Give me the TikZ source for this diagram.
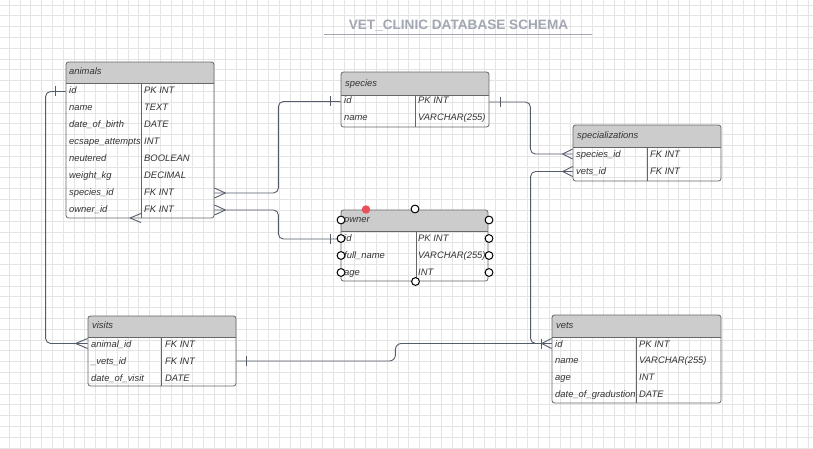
\documentclass[tikz,border=0pt]{standalone}
\usepackage{fontspec}
\setmainfont{Liberation Sans}
\usetikzlibrary{fit}
\definecolor{gridc}{HTML}{E4E4E4}
\definecolor{boxline}{HTML}{666666}
\definecolor{headfill}{HTML}{CCCCCC}
\definecolor{txtc}{HTML}{333333}
\definecolor{connc}{HTML}{545B6B}
\definecolor{titlec}{HTML}{A3A7B3}
\definecolor{reddot}{HTML}{E8505B}
\tikzset{
  tbl/.style={draw=boxline, line width=0.8pt, rounded corners=2.5pt, inner sep=0pt},
  sepline/.style={draw=boxline, line width=0.8pt},
  cell/.style={anchor=base west, inner sep=0pt, text=txtc, font=\fontsize{9.4}{11}\selectfont\itshape},
  conn/.style={draw=connc, line width=0.9pt},
  handle/.style={circle, draw=black, fill=white, line width=1pt, minimum size=7.8pt, inner sep=0pt},
  redhandle/.style={circle, fill=reddot, minimum size=8.5pt, inner sep=0pt},
  titletxt/.style={anchor=base, inner sep=0pt, text=titlec, font=\fontsize{13.6}{16}\selectfont\bfseries},
}
% table: name, x1, y1, x2, y2, yheader, xdivider
\newcommand\ertab[7]{%
  \begin{scope}
    \clip[rounded corners=2.5pt] (#2,#3) rectangle (#4,#5);
    \fill[headfill] (#2,#3) rectangle (#4,#6);
  \end{scope}
  \node[tbl, fit={(#2,#3) (#4,#5)}] (#1) {};
  \draw[sepline] (#2,#6) -- (#4,#6);
  \draw[sepline] (#7,#6) -- (#7,#5);
}
% crow's foot: point, dx (apex offset)
\newcommand\crowft[2]{%
  \draw[conn] (#1) ++(#2,0) -- ++(-#2,-5) (#1) ++(#2,0) -- ++(-#2,5);
}
\newcommand\tickmk[2]{%
  \draw[conn] (#1) ++(#2,-5) -- ++(0,10);
}
\begin{document}
\begin{tikzpicture}[x=1pt,y=-1pt]
\useasboundingbox (0,0) rectangle (813,449);
\fill[white] (0,0) rectangle (813,449);
% grid
\foreach \i in {0,...,75} \draw[gridc, line width=0.6pt] ({9+10.8*\i},0) -- ({9+10.8*\i},449);
\foreach \j in {0,...,41} \draw[gridc, line width=0.6pt] (0,{5+10.8*\j}) -- (813,{5+10.8*\j});

% title
\node[titletxt] (title) at (458.5,30) {VET\_CLINIC DATABASE SCHEMA};
\draw[titlec, line width=1.2pt] (324,34.3) -- (592,34.3);

% ---------- animals ----------
\ertab{animals}{66}{62}{214}{218}{83}{141}
\node[cell] (an-h) at (69,75) {animals};
\foreach \n/\t/\ty [count=\k from 0] in {id/id/PK INT, name/name/TEXT, dob/date\_of\_birth/DATE, esc/ecsape\_attempts/INT, neu/neutered/BOOLEAN, wkg/weight\_kg/DECIMAL, spid/species\_id/FK INT, owid/owner\_id/FK INT}{
  \node[cell] (an-\n) at (69,{94+16.9*\k}) {\t};
  \node[cell] (an-\n-t) at (144,{94+16.9*\k}) {\ty};
}

% ---------- species ----------
\ertab{species}{341}{72}{489}{127}{95}{415}
\node[cell] (sp-h) at (345,86.5) {species};
\node[cell] (sp-id) at (344,103.5) {id};
\node[cell] (sp-id-t) at (418,103.5) {PK INT};
\node[cell] (sp-name) at (344,120.5) {name};
\node[cell] (sp-name-t) at (418,120.5) {VARCHAR(255)};

% ---------- specializations ----------
\ertab{spz}{573}{125}{721}{181}{147}{647}
\node[cell] (spz-h) at (577,138.5) {specializations};
\node[cell] (spz-sp) at (576,157.5) {species\_id};
\node[cell] (spz-sp-t) at (650,157.5) {FK INT};
\node[cell] (spz-vt) at (576,174.5) {vets\_id};
\node[cell] (spz-vt-t) at (650,174.5) {FK INT};

% ---------- owner ----------
\ertab{owner}{341}{210}{488}{281}{231}{416}
\node[cell] (ow-h) at (344,222.5) {owner};
\node[cell] (ow-id) at (344,241.5) {id};
\node[cell] (ow-id-t) at (418,241.5) {PK INT};
\node[cell] (ow-fn) at (344,258.5) {full\_name};
\node[cell] (ow-fn-t) at (418,258.5) {VARCHAR(255)};
\node[cell] (ow-age) at (344,275.5) {age};
\node[cell] (ow-age-t) at (418,275.5) {INT};

% ---------- visits ----------
\ertab{visits}{88}{316}{236}{386}{337}{161}
\node[cell] (vs-h) at (92,328.5) {visits};
\node[cell] (vs-an) at (91,347) {animal\_id};
\node[cell] (vs-an-t) at (165,347) {FK INT};
\node[cell] (vs-vt) at (91,364) {\_vets\_id};
\node[cell] (vs-vt-t) at (165,364) {FK INT};
\node[cell] (vs-dv) at (91,381) {date\_of\_visit};
\node[cell] (vs-dv-t) at (165,381) {DATE};

% ---------- vets ----------
\ertab{vets}{552}{315}{721}{403}{337}{636}
\node[cell] (vt-h) at (556,328) {vets};
\node[cell] (vt-id) at (555,347) {id};
\node[cell] (vt-id-t) at (639,347) {PK INT};
\node[cell] (vt-name) at (555,363.5) {name};
\node[cell] (vt-name-t) at (639,363.5) {VARCHAR(255)};
\node[cell] (vt-age) at (555,380.5) {age};
\node[cell] (vt-age-t) at (639,380.5) {INT};
\node[cell] (vt-dg) at (555,397.5) {date\_of\_gradustion};
\node[cell] (vt-dg-t) at (639,397.5) {DATE};

% ---------- connector end points ----------
\coordinate (p-an-sp) at (animals.east |- 0,193);
\coordinate (p-an-ow) at (animals.east |- 0,210);
\coordinate (p-an-id) at (animals.west |- 0,91.5);
\coordinate (p-sp-idw) at (species.west |- 0,101.5);
\coordinate (p-sp-ide) at (species.east |- 0,102);
\coordinate (p-ow-id) at (owner.west |- 0,239);
\coordinate (p-spz-sp) at (spz.west |- 0,154);
\coordinate (p-spz-vt) at (spz.west |- 0,171.5);
\coordinate (p-vs-an) at (visits.west |- 0,343.5);
\coordinate (p-vs-vt) at (visits.east |- 0,361);
\coordinate (p-vt-id) at (vets.west |- 0,343.5);
\coordinate (p-an-bot) at (130,218);

% ---------- connectors ----------
\draw[conn, rounded corners=5pt] (p-an-sp) -- ++(64,0) |- (p-sp-idw);
\draw[conn, rounded corners=5pt] (p-an-ow) -- ++(64,0) |- (p-ow-id);
\draw[conn, rounded corners=5pt] (p-sp-ide) -- ++(41,0) |- (p-spz-sp);
\draw[conn, rounded corners=5pt] (p-vt-id) -- ++(-21,0) |- (p-spz-vt);
\draw[conn, rounded corners=5pt] (p-an-id) -- ++(-20,0) |- (p-vs-an);
\draw[conn, rounded corners=6pt] (p-vs-vt) -- ++(159,0) |- (p-vt-id);

% markers
\crowft{p-an-sp}{11}
\crowft{p-an-ow}{11}
\crowft{p-spz-sp}{-10}
\crowft{p-spz-vt}{-10}
\crowft{p-vs-an}{-12}
\crowft{p-vt-id}{-10}
\tickmk{p-vt-id}{-10}
\tickmk{p-sp-idw}{-10}
\tickmk{p-sp-ide}{11}
\tickmk{p-ow-id}{-10}
\tickmk{p-an-id}{-10}
\tickmk{p-vs-vt}{10}
\draw[conn] (p-an-bot) -- ++(11,-4.5) (p-an-bot) -- ++(11,4.5);

% owner selection handles
\node[handle] (hd-t) at (415,209) {};
\node[handle] (hd-lh) at (341,220) {};
\node[handle] (hd-rh) at (489,220) {};
\node[handle] (hd-l1) at (341,238.5) {};
\node[handle] (hd-l2) at (341,255.5) {};
\node[handle] (hd-l3) at (341,272.5) {};
\node[handle] (hd-r1) at (489,238.5) {};
\node[handle] (hd-r2) at (489,255.5) {};
\node[handle] (hd-r3) at (489,272.5) {};
\node[handle] (hd-b) at (415.5,281.5) {};
\node[redhandle] (hd-red) at (366,209.5) {};
\end{tikzpicture}
\end{document}
